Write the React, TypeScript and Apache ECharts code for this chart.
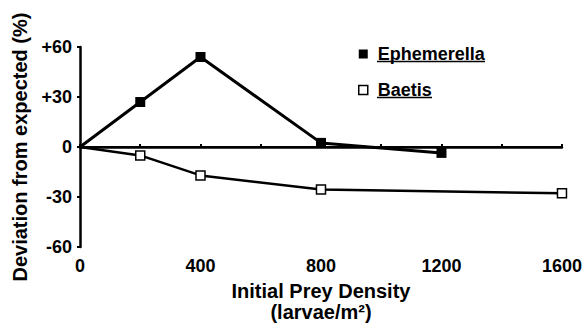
import React, { useEffect, useRef } from "react";
import * as echarts from "echarts";

const ephemerellaX = [0, 200, 400, 800, 1200];
const ephemerellaY = [0, 27, 54, 2.5, -3.5];
const baetisX = [0, 200, 400, 800, 1600];
const baetisY = [0, -5, -17, -25.5, -27.7];
const yTicks = [-60, -30, 0, 30, 60];
const xTicks = [0, 400, 800, 1200, 1600];

const FONT = "'Liberation Sans', Arial, Helvetica, sans-serif";

export default function App() {
  const ref = useRef<HTMLDivElement>(null);
  useEffect(() => {
    if (!ref.current) return;
    const chart = echarts.init(ref.current, null, { renderer: "svg" });
    const pair = (xs: number[], ys: number[]) =>
      xs.map((x, i) => (i === 0 ? { value: [x, ys[i]], symbol: "none" } : [x, ys[i]]));
    chart.setOption({
      animation: false,
      textStyle: { fontFamily: FONT },
      grid: { left: 80, right: 23, top: 47, bottom: 78 },
      legend: {
        orient: "vertical",
        left: 358,
        top: 44,
        padding: 0,
        itemGap: 16,
        itemWidth: 9,
        itemHeight: 9,
        textStyle: {
          fontFamily: FONT,
          fontWeight: "bold",
          fontSize: 18,
          lineHeight: 20,
          color: "#000",
          padding: [0, 0, 0, 5],
        },
        data: [
          { name: "Ephemerella", icon: "rect", itemStyle: { color: "#000", borderWidth: 0 } },
          { name: "Baetis", icon: "rect", itemStyle: { color: "#fff", borderColor: "#000", borderWidth: 1.5 } },
        ],
      },
      graphic: [
        { type: "line", shape: { x1: 377, y1: 61.5, x2: 485, y2: 61.5 }, style: { stroke: "#000", lineWidth: 1.5 } },
        { type: "line", shape: { x1: 377, y1: 97.5, x2: 432, y2: 97.5 }, style: { stroke: "#000", lineWidth: 1.5 } },
      ],
      xAxis: {
        type: "value",
        min: xTicks[0],
        max: xTicks[xTicks.length - 1],
        interval: 400,
        name: "Initial Prey Density\n(larvae/m²)",
        nameLocation: "middle",
        nameGap: 26,
        nameTextStyle: { fontFamily: FONT, fontWeight: "bold", fontSize: 20, color: "#000", lineHeight: 21 },
        axisLine: { show: true, lineStyle: { color: "#000", width: 2.5 } },
        axisTick: { show: true, inside: true, length: 3, lineStyle: { color: "#000", width: 2 } },
        minorTick: { show: true, splitNumber: 2, length: 3, lineStyle: { color: "#000", width: 2 } },
        axisLabel: {
          fontFamily: FONT,
          fontWeight: "bold",
          fontSize: 18,
          color: "#000",
          margin: 10,
          formatter: (v: number) => String(v),
        },
        splitLine: { show: false },
      },
      yAxis: {
        type: "value",
        min: yTicks[0],
        max: yTicks[yTicks.length - 1],
        interval: 30,
        name: "Deviation from expected (%)",
        nameLocation: "middle",
        nameGap: 50,
        nameTextStyle: { fontFamily: FONT, fontWeight: "bold", fontSize: 20, color: "#000" },
        axisLine: { show: true, lineStyle: { color: "#000", width: 2.5 } },
        axisTick: { show: true, inside: false, length: 3, lineStyle: { color: "#000", width: 2 } },
        axisLabel: {
          fontFamily: FONT,
          fontWeight: "bold",
          fontSize: 18,
          color: "#000",
          margin: 8,
          formatter: (v: number) => (v > 0 ? "+" + v : String(v)),
        },
        splitLine: { show: false },
      },
      series: [
        {
          name: "Ephemerella",
          type: "line",
          data: pair(ephemerellaX, ephemerellaY),
          symbol: "rect",
          symbolSize: 10,
          lineStyle: { color: "#000", width: 3 },
          itemStyle: { color: "#000", borderWidth: 0 },
          z: 3,
          markLine: {
            silent: true,
            symbol: "none",
            label: { show: false },
            lineStyle: { color: "#000", width: 2, type: "solid" },
            data: [{ yAxis: 0 }],
          },
        },
        {
          name: "Baetis",
          type: "line",
          data: pair(baetisX, baetisY),
          symbol: "rect",
          symbolSize: 9,
          lineStyle: { color: "#000", width: 2.5 },
          itemStyle: { color: "#fff", borderColor: "#000", borderWidth: 1.5 },
          z: 4,
        },
      ],
    });
    return () => chart.dispose();
  }, []);
  return <div ref={ref} style={{ width: 585, height: 327, position: "absolute", left: 0, top: 0 }} />;
}
